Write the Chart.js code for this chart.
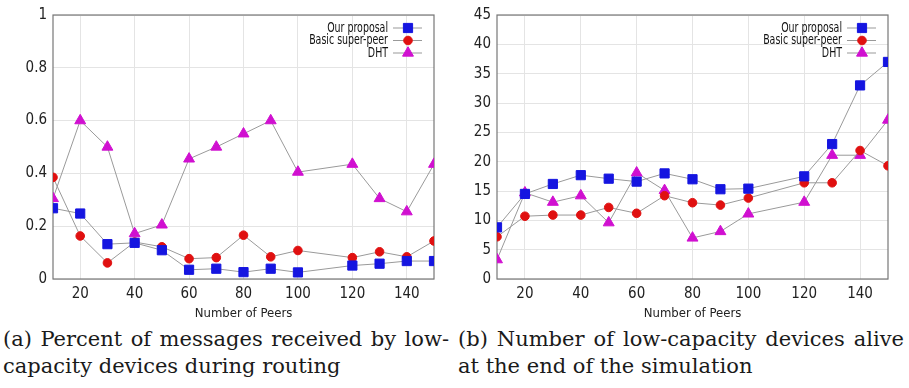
<!DOCTYPE html>
<html>
<head>
<meta charset="utf-8">
<script src="https://cdn.jsdelivr.net/npm/chart.js@4"></script>
<style>
    body { margin: 0; width: 909px; height: 388px; background: #fff; overflow: hidden; }
    .col { position: absolute; top: 0; }
    .cap { position: absolute; font-family: 'DejaVu Serif', serif; font-size: 21px; line-height: 27px; color: #1a1a1a; white-space: nowrap; }
    .just { text-align: justify; text-align-last: justify; white-space: normal; }
</style>
</head>
<body>
<div class="col" style="left:0; width:455px; height:325px;"><canvas id="pct_msgs" width="455" height="325"></canvas></div>
<div class="col" style="left:460px; width:449px; height:325px;"><canvas id="alive_devs" width="449" height="325"></canvas></div>
<div class="cap just" style="left:3px; top:326px; width:446px;">(a) Percent of messages received by low-</div>
<div class="cap" style="left:3px; top:353px;">capacity devices during routing</div>
<div class="cap just" style="left:458px; top:326px; width:446px;">(b) Number of low-capacity devices alive</div>
<div class="cap" style="left:458px; top:353px;">at the end of the simulation</div>
<script>
// number of peers (no run at 110)
const peers = [10, 20, 30, 40, 50, 60, 70, 80, 90, 100, 120, 130, 140, 150];
const x_ticks = [20, 40, 60, 80, 100, 120, 140];

// (a) percent of messages received by low-capacity devices
const pct_ours  = [0.268, 0.248, 0.132, 0.137, 0.109, 0.035, 0.039, 0.026, 0.039, 0.025, 0.051, 0.058, 0.068, 0.068];
const pct_super = [0.385, 0.163, 0.061, 0.140, 0.122, 0.077, 0.081, 0.166, 0.084, 0.108, 0.081, 0.103, 0.084, 0.144];
const pct_dht   = [0.305, 0.60, 0.50, 0.172, 0.205, 0.455, 0.50, 0.55, 0.60, 0.405, 0.435, 0.305, 0.255, 0.435];
const pct_ticks = [0, 0.2, 0.4, 0.6, 0.8, 1];

// (b) number of low-capacity devices alive at the end
const alive_ours  = [8.8, 14.5, 16.2, 17.7, 17.1, 16.6, 18.0, 17.0, 15.3, 15.4, 17.5, 23.0, 33.0, 37.0];
const alive_super = [7.2, 10.7, 10.9, 10.9, 12.2, 11.2, 14.2, 13.0, 12.6, 13.8, 16.4, 16.4, 21.9, 19.3];
const alive_dht   = [3.3, 14.7, 13.1, 14.2, 9.6, 18.1, 15.1, 7.0, 8.1, 11.1, 13.1, 21.1, 21.1, 27.1];
const alive_ticks = [0, 5, 10, 15, 20, 25, 30, 35, 40, 45];

const series_names = ['Our proposal', 'Basic super-peer', 'DHT'];

const font_fam = "'DejaVu Sans Condensed', 'Liberation Sans Narrow', 'Liberation Sans', sans-serif";
const tick_font = { family: font_fam, size: 15 };

function pts(ys) {
    return peers.map((p, i) => ({ x: p, y: ys[i] }));
}

// frame around the plot + legend in the top right corner, gnuplot style
const framePlugin = {
    id: 'frame',
    beforeDatasetsDraw(chart) {
        const a = chart.chartArea, c = chart.ctx;
        c.save();
        c.strokeStyle = '#777';
        c.lineWidth = 1.2;
        c.strokeRect(a.left, a.top, a.right - a.left, a.bottom - a.top);
        c.restore();
    },
    afterDraw(chart) {
        const a = chart.chartArea, c = chart.ctx;
        c.save();
        chart.data.datasets.forEach((ds, i) => {
            const y = a.top + 13 + i * 12.5;
            // squeezed text like the original narrow font
            c.save();
            c.font = '14px ' + font_fam;
            c.textAlign = 'right';
            c.textBaseline = 'middle';
            c.fillStyle = '#111';
            c.translate(a.right - 46, y);
            c.scale(0.75, 1);
            c.fillText(ds.label, 0, 0);
            c.restore();
            c.strokeStyle = '#999';
            c.lineWidth = 1;
            c.beginPath();
            c.moveTo(a.right - 41, y);
            c.lineTo(a.right - 12, y);
            c.stroke();
            c.fillStyle = ds.backgroundColor;
            c.strokeStyle = ds.borderColor;
            Chart.helpers.drawPoint(c, { pointStyle: ds.pointStyle, radius: ds.pointRadius, borderWidth: 1 }, a.right - 26, y);
        });
        c.restore();
    }
};

function makeChart(id, ours, sup, dht, yTicks, yMax, yWidth, padRight, padTop) {
    return new Chart(document.getElementById(id), {
        type: 'line',
        data: {
            datasets: [
                { label: series_names[0], data: pts(ours), pointStyle: 'rect', pointRadius: 6.5,
                  backgroundColor: '#1515e0', borderColor: '#1515e0' },
                { label: series_names[1], data: pts(sup), pointStyle: 'circle', pointRadius: 4.3,
                  backgroundColor: '#e01010', borderColor: '#e01010' },
                { label: series_names[2], data: pts(dht), pointStyle: 'triangle', pointRadius: 6.3,
                  backgroundColor: '#d010d0', borderColor: '#d010d0' },
            ].map(ds => Object.assign(ds, {
                borderWidth: 1, pointBorderWidth: 1, showLine: true,
                segment: { borderColor: '#9a9a9a' }, tension: 0,
            })),
        },
        options: {
            responsive: false,
            animation: false,
            layout: { padding: { left: 0, right: padRight, top: padTop, bottom: 0 } },
            scales: {
                x: {
                    type: 'linear', min: 10, max: 150,
                    afterBuildTicks: s => { s.ticks = x_ticks.map(v => ({ value: v })); },
                    afterFit: s => { s.height = 46; },
                    grid: { color: '#e4e4e4', drawTicks: false },
                    border: { display: false },
                    ticks: { font: tick_font, color: '#222', padding: 6, maxRotation: 0 },
                    title: { display: true, text: 'Number of Peers', font: { family: font_fam, size: 13 }, color: '#222', padding: { top: 0 } },
                },
                y: {
                    min: 0, max: yMax,
                    afterBuildTicks: s => { s.ticks = yTicks.map(v => ({ value: v })); },
                    afterFit: s => { s.width = yWidth; },
                    grid: { color: '#e4e4e4', drawTicks: false },
                    border: { display: false },
                    ticks: { font: tick_font, color: '#222', padding: 6, callback: v => String(v) },
                },
            },
            plugins: {
                legend: { display: false },
                tooltip: { enabled: false },
            },
        },
        plugins: [framePlugin],
    });
}

const chart_a = makeChart('pct_msgs', pct_ours, pct_super, pct_dht, pct_ticks, 1, 53, 21, 8);
const chart_b = makeChart('alive_devs', alive_ours, alive_super, alive_dht, alive_ticks, 45, 37, 21, 10);
</script>
</body>
</html>
